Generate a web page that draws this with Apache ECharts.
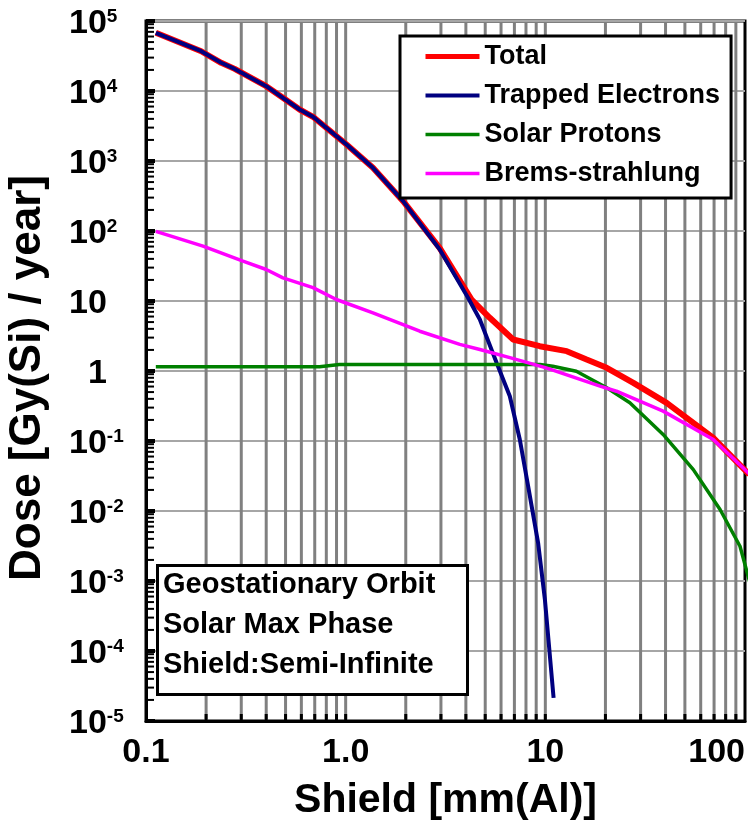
<!DOCTYPE html>
<html>
<head>
<meta charset="utf-8">
<title>Dose vs Shield</title>
<script src="https://cdn.jsdelivr.net/npm/echarts@6.0.0/dist/echarts.min.js"></script>
<style>
    html, body { margin: 0; padding: 0; background: #fff; }
    #main { width: 752px; height: 827px; }
</style>
</head>
<body>
<div id="main"></div>
<script>
// values (x: mm Al, y: Gy(Si)/year)
var totalX = [0.112, 0.189, 0.238, 0.278, 0.4, 0.485, 0.588, 0.686, 1.01, 1.37, 1.94, 2.96, 4.27, 5.27, 6.9, 9.38, 12.8, 16.1, 20.3, 27.6, 40.5, 69.4, 105];
var totalY = [67800, 37000, 25300, 20700, 11700, 8000, 5440, 4280, 1720, 800, 267, 57, 10.5, 5.75, 2.82, 2.26, 1.92, 1.46, 1.11, 0.678, 0.351, 0.111, 0.0332];

var electronX = [0.112, 0.189, 0.238, 0.278, 0.4, 0.485, 0.588, 0.686, 1.01, 1.37, 1.94, 2.96, 4.1, 4.7, 5.7, 6.64, 7.45, 8.2, 9.2, 9.95, 11.0];
var electronY = [67800, 37000, 25300, 20700, 11700, 8000, 5440, 4280, 1720, 800, 267, 54.4, 11.1, 5.44, 1.31, 0.436, 0.105, 0.0226, 0.00351, 0.000544, 0.0000214];

var protonX = [0.112, 0.74, 0.93, 9.4, 10.9, 14.3, 20.3, 26.5, 38.9, 55.1, 75, 94.4, 108];
var protonY = [1.15, 1.15, 1.24, 1.24, 1.17, 0.99, 0.575, 0.351, 0.124, 0.039, 0.0105, 0.00314, 0.00076];

var bremsX = [0.112, 0.193, 0.306, 0.4, 0.485, 0.686, 0.898, 1.37, 1.94, 2.35, 3.73, 4.7, 6.64, 10.1, 18.8, 22.7, 38.9, 69.4, 108];
var bremsY = [99, 60.7, 37, 28.2, 21.4, 15.5, 10.5, 6.78, 4.6, 3.7, 2.4, 2.03, 1.55, 1.11, 0.607, 0.514, 0.267, 0.105, 0.0314];

var seriesNames = ['Total', 'Trapped Electrons', 'Solar Protons', 'Brems-strahlung'];
var seriesColors = ['#ff0000', '#000080', '#008000', '#ff00ff'];
var xTickLabels = ['0.1', '1.0', '10', '100'];
var noteLines = ['Geostationary Orbit', 'Solar Max Phase', 'Shield:Semi-Infinite'];

// log grid positions
var minorSteps = [2, 3, 4, 5, 6, 7, 8, 9];
var xDecades = [0.1, 1, 10];
var yDecades = [1e-5, 1e-4, 1e-3, 1e-2, 1e-1, 1, 10, 100, 1e3, 1e4];

var FONT = 'Arial, "Liberation Sans", sans-serif';
var lineWidths = [6, 4, 3.5, 3.5];
var legendWidths = [5, 4, 3.5, 3.5];

function pairs(xs, ys) {
    return xs.map(function (x, i) { return [x, ys[i]]; });
}

var gridXValues = [];
xDecades.forEach(function (d, i) {
    if (i > 0) gridXValues.push(d);
    minorSteps.forEach(function (s) { gridXValues.push(d * s); });
});
var minorYValues = [];
yDecades.forEach(function (d) {
    minorSteps.forEach(function (s) { minorYValues.push(d * s); });
});

/* vertical grid lines + short black ticks on the bottom axis */
function renderVGrid(params, api) {
    var cs = params.coordSys;
    var x = api.coord([api.value(0), 1])[0];
    var bottom = cs.y + cs.height;
    return {
        type: 'group',
        children: [
            { type: 'line', shape: { x1: x, y1: cs.y + 1.5, x2: x, y2: bottom - 1 }, style: { stroke: '#808080', lineWidth: 3 } },
            { type: 'line', shape: { x1: x, y1: bottom - 7, x2: x, y2: bottom }, style: { stroke: '#000', lineWidth: 3 } }
        ]
    };
}

/* minor ticks inside the y axis */
function renderYTicks(params, api) {
    var cs = params.coordSys;
    var y = api.coord([1, api.value(1)])[1];
    return {
        type: 'line',
        shape: { x1: cs.x, y1: y, x2: cs.x + 8, y2: y },
        style: { stroke: '#000', lineWidth: 2 }
    };
}

function lineSeries(i, xs, ys) {
    return {
        name: seriesNames[i],
        type: 'line',
        z: 3,
        clip: false,
        symbol: 'none',
        color: seriesColors[i],
        lineStyle: { color: seriesColors[i], width: lineWidths[i] },
        data: pairs(xs, ys)
    };
}

var myChart = echarts.init(document.getElementById('main'), null, { renderer: 'canvas' });

var option = {
    animation: false,
    backgroundColor: '#fff',
    textStyle: { fontFamily: FONT },
    title: {
        text: noteLines.join('\n'),
        left: 157,
        top: 565,
        padding: [0, 32, 10, 6],
        backgroundColor: '#fff',
        borderColor: '#000',
        borderWidth: 3,
        textStyle: {
            fontFamily: FONT,
            fontSize: 29,
            fontWeight: 'bold',
            color: '#000',
            lineHeight: 40
        }
    },
    legend: {
        data: seriesNames.map(function (n, i) {
            return { name: n, lineStyle: { color: seriesColors[i], width: legendWidths[i] } };
        }),
        orient: 'vertical',
        left: 400,
        top: 36,
        padding: [7, 11, 11, 23],
        itemWidth: 54,
        itemHeight: 26,
        itemGap: 12,
        itemStyle: { opacity: 0 },
        backgroundColor: '#fff',
        borderColor: '#000',
        borderWidth: 3,
        borderRadius: 0,
        textStyle: {
            fontFamily: FONT,
            fontSize: 27,
            fontWeight: 'bold',
            color: '#000'
        }
    },
    grid: {
        left: 146,
        top: 21,
        width: 599,
        height: 700,
        show: true,
        borderColor: '#000',
        borderWidth: 3,
        outerBoundsMode: 'none'
    },
    xAxis: {
        type: 'log',
        logBase: 10,
        min: 0.1,
        max: 100,
        interval: 1,
        name: 'Shield [mm(Al)]',
        nameLocation: 'middle',
        nameGap: 59,
        nameTextStyle: { fontFamily: FONT, fontSize: 41, fontWeight: 'bold', color: '#000' },
        axisLine: { lineStyle: { color: '#000', width: 3 } },
        axisTick: { show: false },
        splitLine: { show: false },
        axisLabel: {
            margin: 15,
            alignMaxLabel: 'right',
            fontFamily: FONT,
            fontSize: 34,
            fontWeight: 'bold',
            color: '#000',
            formatter: function (v) {
                var e = Math.round(Math.log(v) / Math.LN10);
                return xTickLabels[e + 1];
            }
        }
    },
    yAxis: {
        type: 'log',
        logBase: 10,
        min: 1e-5,
        max: 1e5,
        interval: 1,
        name: 'Dose [Gy(Si) / year]',
        nameLocation: 'middle',
        nameGap: 96,
        nameTextStyle: { fontFamily: FONT, fontSize: 44, fontWeight: 'bold', color: '#000', padding: [0, 14, 0, 0] },
        axisLine: { lineStyle: { color: '#000', width: 3 } },
        axisTick: { inside: true, length: 9, lineStyle: { color: '#000', width: 4 } },
        splitLine: { show: true, lineStyle: { color: '#a6a6a6', width: 2 } },
        axisLabel: {
            margin: 77,
            align: 'left',
            padding: [6, 0, 0, 0],
            formatter: function (v) {
                var e = Math.round(Math.log(v) / Math.LN10);
                if (e === 0) return '{z| }{b|1}';
                if (e === 1) return '{b|10}';
                return '{b|10}{s|' + e + '}';
            },
            rich: {
                b: { fontFamily: FONT, fontSize: 34, fontWeight: 'bold', color: '#000', lineHeight: 34 },
                z: { fontSize: 34, width: 19, lineHeight: 34 },
                s: { fontFamily: FONT, fontSize: 19, fontWeight: 'bold', color: '#000', lineHeight: 20, verticalAlign: 'top' }
            }
        }
    },
    series: [
        {
            type: 'custom',
            silent: true,
            z: 1,
            renderItem: renderVGrid,
            data: gridXValues.map(function (v) { return [v, 1]; })
        },
        {
            type: 'custom',
            silent: true,
            z: 1,
            renderItem: renderYTicks,
            data: minorYValues.map(function (v) { return [1, v]; })
        },
        lineSeries(0, totalX, totalY),
        lineSeries(1, electronX, electronY),
        lineSeries(2, protonX, protonY),
        lineSeries(3, bremsX, bremsY)
    ]
};

myChart.setOption(option);
</script>
</body>
</html>
